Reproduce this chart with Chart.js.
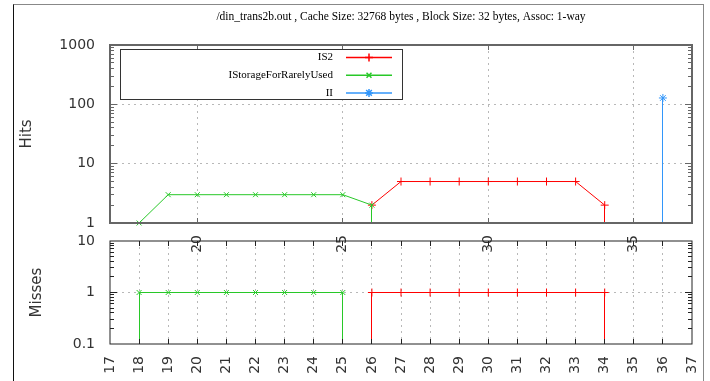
<!DOCTYPE html>
<html>
<head>
<meta charset="utf-8">
<script src="https://cdn.jsdelivr.net/npm/chart.js@4/dist/chart.umd.min.js"></script>
<style>
  html, body { margin: 0; padding: 0; background: #fff; }
  #wrap { position: relative; width: 710px; height: 381px; overflow: hidden; }
  #wrap canvas { position: absolute; left: 0; top: 0; }
  #frame { position: absolute; left: 13px; top: 4px; width: 689px; height: 400px;
           border-left: 1px solid #111; border-top: 1px solid #888; border-right: 1px solid #888; }
</style>
</head>
<body>
<div id="wrap">
  <div id="frame"></div>
  <canvas id="hits" width="710" height="381"></canvas>
  <canvas id="misses" width="710" height="381"></canvas>
</div>
<script>
// ---- data ----
const titleText = '/din_trans2b.out , Cache Size: 32768 bytes , Block Size: 32 bytes, Assoc: 1-way';
const seriesNames = ['IS2', 'IStorageForRarelyUsed', 'II'];

const is2HitsX = [26, 27, 28, 29, 30, 31, 32, 33, 34];
const is2Hits = [2, 5, 5, 5, 5, 5, 5, 5, 2];
const storageHitsX = [18, 19, 20, 21, 22, 23, 24, 25, 26];
const storageHits = [1, 3, 3, 3, 3, 3, 3, 3, 2];
const iiHitsX = [36];
const iiHits = [128];

const is2MissesX = [26, 27, 28, 29, 30, 31, 32, 33, 34];
const is2Misses = [1, 1, 1, 1, 1, 1, 1, 1, 1];
const storageMissesX = [18, 19, 20, 21, 22, 23, 24, 25];
const storageMisses = [1, 1, 1, 1, 1, 1, 1, 1];

const hitsXTicks = [20, 25, 30, 35];
const missesXTicks = [17, 18, 19, 20, 21, 22, 23, 24, 25, 26, 27, 28, 29, 30, 31, 32, 33, 34, 35, 36, 37];
const hitsYTicks = [1, 10, 100, 1000];
const missesYTicks = [0.1, 1, 10];

// ---- styling ----
const RED = 'rgb(255,0,0)';
const GREEN = 'rgb(40,200,40)';
const BLUE = 'rgb(50,150,250)';
const TICK_FONT = { family: 'DejaVu Sans', size: 14 };
const AXIS_FONT = { family: 'DejaVu Sans', size: 15 };

const pts = (xs, ys) => xs.map((x, i) => ({ x, y: ys[i] }));
// same 1px snapping the library uses for its grid lines
const snap = v => Math.round(v - 0.5) + 0.5;

function series(label, xs, ys, color, style, order) {
  return {
    label, data: pts(xs, ys), order,
    borderColor: color, backgroundColor: color, borderWidth: 1,
    pointStyle: style, pointRadius: style === 'crossRot' ? 3.5 : 4,
    pointBorderColor: color, pointBorderWidth: 1,
    showLine: true, tension: 0, clip: false
  };
}

// decorations: drop lines, plot box, minor ticks, title, key
const deco = {
  id: 'deco',
  afterDatasetDraw(chart, args) {
    const { ctx, chartArea } = chart;
    const ds = chart.data.datasets[args.index];
    const els = args.meta.data;
    if (!els.length) return;
    ctx.save();
    ctx.strokeStyle = ds.borderColor;
    ctx.lineWidth = 1;
    [els[0], els[els.length - 1]].forEach(p => {
      const px = snap(p.x);
      ctx.beginPath();
      ctx.moveTo(px, p.y);
      ctx.lineTo(px, chartArea.bottom);
      ctx.stroke();
    });
    ctx.restore();
  },
  afterDraw(chart, args, o) {
    const { ctx, chartArea: a, scales } = chart;
    ctx.save();
    // tick marks on the inside of the box
    ctx.strokeStyle = o.boxColor;
    ctx.lineWidth = 1;
    const ys = scales.y;
    const lo = Math.floor(Math.log10(ys.min)), hi = Math.ceil(Math.log10(ys.max));
    for (let d = lo; d < hi; d++) {
      for (let m = 1; m <= 9; m++) {
        const v = m * Math.pow(10, d);
        if (v <= ys.min || v >= ys.max) continue;
        const py = snap(ys.getPixelForValue(v));
        const len = m === 1 ? 7 : 4;
        ctx.beginPath();
        ctx.moveTo(a.left, py); ctx.lineTo(a.left + len, py);
        ctx.moveTo(a.right, py); ctx.lineTo(a.right - len, py);
        ctx.stroke();
      }
    }
    const xs = scales.x;
    xs.ticks.forEach(t => {
      if (t.value <= xs.min || t.value >= xs.max) return;
      const px = snap(xs.getPixelForValue(t.value));
      ctx.beginPath();
      ctx.moveTo(px, a.bottom); ctx.lineTo(px, a.bottom - 5);
      ctx.moveTo(px, a.top); ctx.lineTo(px, a.top + 5);
      ctx.stroke();
    });
    // plot box
    ctx.lineWidth = o.boxWidth;
    ctx.strokeRect(a.left, a.top, a.right - a.left, a.bottom - a.top);

    if (o.title) {
      ctx.fillStyle = '#000';
      ctx.font = '11.5px "Liberation Serif"';
      ctx.textAlign = 'center';
      ctx.textBaseline = 'middle';
      ctx.fillText(o.title, (a.left + a.right) / 2, 17);
    }
    if (o.key) {
      const bx = a.left + 10, by = a.top + 4, bw = 282, bh = 50;
      ctx.fillStyle = '#fff';
      ctx.fillRect(bx, by, bw, bh);
      ctx.strokeStyle = '#333';
      ctx.lineWidth = 1;
      ctx.strokeRect(bx + 0.5, by + 0.5, bw, bh);
      ctx.font = '11px "Liberation Serif"';
      ctx.textAlign = 'right';
      ctx.textBaseline = 'middle';
      chart.data.datasets.forEach((ds, i) => {
        const ry = by + 8.5 + i * 17.7;
        ctx.fillStyle = '#000';
        ctx.fillText(ds.label, bx + 213, ry);
        ctx.strokeStyle = ds.borderColor;
        ctx.lineWidth = 1.5;
        ctx.beginPath();
        ctx.moveTo(bx + 226, ry); ctx.lineTo(bx + 272, ry);
        ctx.stroke();
        Chart.helpers.drawPoint(ctx, {
          pointStyle: ds.pointStyle, radius: ds.pointRadius, borderWidth: 1, rotation: 0
        }, bx + 249, ry);
      });
    }
    ctx.restore();
  }
};

function gridColor(list) {
  return c => (c.tick && list.includes(c.tick.value)) ? '#b8b8b8' : 'rgba(0,0,0,0)';
}

function makeOptions(cfg) {
  return {
    responsive: false, animation: false, devicePixelRatio: 1,
    layout: { padding: { left: 0, right: 18, top: cfg.top, bottom: 0 } },
    plugins: { legend: { display: false }, tooltip: { enabled: false }, deco: cfg.deco },
    scales: {
      x: {
        type: 'linear', min: 17, max: 37,
        afterBuildTicks: s => { s.ticks = cfg.xTicks.map(v => ({ value: v })); },
        afterFit: s => { s.height = cfg.xHeight; s.paddingLeft = 0; s.paddingRight = 0; },
        grid: { color: gridColor(cfg.xGrid), drawTicks: false, lineWidth: 1 },
        border: { display: false, dash: [2, 4] },
        ticks: { autoSkip: false, minRotation: 90, maxRotation: 90, padding: 12,
                 font: TICK_FONT, color: '#333', callback: v => String(v) }
      },
      y: {
        type: 'logarithmic', min: cfg.yMin, max: cfg.yMax,
        afterBuildTicks: s => { s.ticks = cfg.yTicks.map(v => ({ value: v })); },
        afterFit: s => { s.width = 110; s.paddingTop = 0; s.paddingBottom = 0; },
        grid: { color: gridColor(cfg.yGrid), drawTicks: false, lineWidth: 1 },
        border: { display: false, dash: [2, 4] },
        ticks: { autoSkip: false, padding: 15, font: TICK_FONT, color: '#333',
                 callback: v => String(v) },
        title: { display: true, text: cfg.yTitle, font: AXIS_FONT, color: '#333',
                 padding: { top: cfg.titlePad, bottom: 0 } }
      }
    }
  };
}

new Chart(document.getElementById('hits'), {
  type: 'line',
  data: {
    datasets: [
      series(seriesNames[0], is2HitsX, is2Hits, RED, 'cross', 2),
      series(seriesNames[1], storageHitsX, storageHits, GREEN, 'crossRot', 1),
      series(seriesNames[2], iiHitsX, iiHits, BLUE, 'star', 0)
    ]
  },
  options: makeOptions({
    top: 45, xHeight: 158, xTicks: hitsXTicks, xGrid: hitsXTicks,
    yMin: 1, yMax: 1000, yTicks: hitsYTicks, yGrid: [10, 100],
    yTitle: 'Hits', titlePad: 18,
    deco: { title: titleText, key: true, boxColor: '#666', boxWidth: 2 }
  }),
  plugins: [deco]
});

new Chart(document.getElementById('misses'), {
  type: 'line',
  data: {
    datasets: [
      series(seriesNames[0], is2MissesX, is2Misses, RED, 'cross', 2),
      series(seriesNames[1], storageMissesX, storageMisses, GREEN, 'crossRot', 1)
    ]
  },
  options: makeOptions({
    top: 241, xHeight: 37, xTicks: missesXTicks, xGrid: missesXTicks.slice(1, -1),
    yMin: 0.1, yMax: 10, yTicks: missesYTicks, yGrid: [1],
    yTitle: 'Misses', titlePad: 28,
    deco: { title: null, key: false, boxColor: '#222', boxWidth: 1 }
  }),
  plugins: [deco]
});
</script>
</body>
</html>
